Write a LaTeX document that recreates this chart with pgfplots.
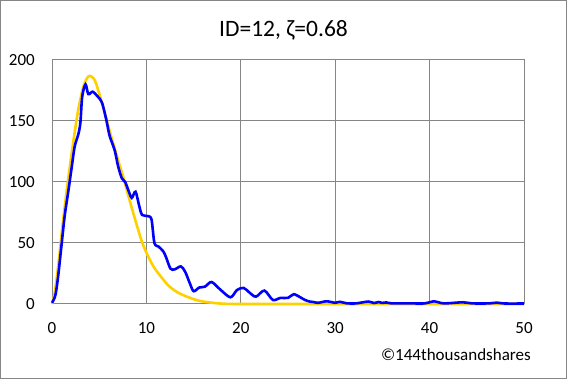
\documentclass[border=0pt]{standalone}
\usepackage{pgfplots}
\pgfplotsset{compat=1.18}
\usepackage{fontspec}
\setmainfont{Carlito}
\definecolor{serblue}{RGB}{0,0,255}
\definecolor{seryel}{RGB}{255,208,0}
\definecolor{gridgray}{RGB}{134,134,134}
\begin{document}
\begin{tikzpicture}
\useasboundingbox (-52pt,-75pt) rectangle (515pt,304pt);
\draw[gridgray, line width=1pt] (-51.5pt,-74.5pt) rectangle (514.5pt,303.5pt);
\begin{axis}[
  at={(0pt,0pt)}, anchor=south west,
  scale only axis, width=472pt, height=244pt,
  xmin=0, xmax=50, ymin=0, ymax=200,
  xtick={0,10,...,50}, ytick={0,50,...,200},
  grid=major, grid style={gridgray, line width=1pt},
  axis line style={gridgray, line width=1pt},
  major tick length=0pt,
  /pgf/number format/assume math mode=true,
  tick label style={font=\fontsize{17}{17}\selectfont, inner sep=0pt},
  yticklabel style={xshift=-17pt},
  xticklabel style={yshift=-18pt},
  clip=false,
]
\addplot[seryel, line width=2.6pt, smooth] coordinates {
(0,0) (0.28,9) (0.64,30) (1.17,68) (1.69,101) (2.22,131) (2.75,158) (3.28,177)
(3.7,185) (4.0,187) (4.4,185) (4.7,180) (5.4,162) (6.1,142) (7.0,118) (7.55,104)
(8.26,84) (8.97,65) (9.67,48) (10.73,31) (12.0,18) (12.5,14) (13.3,9.5) (14.3,6)
(15.2,3.5) (16,2) (17.8,0.4) (20,0) (30,0) (40,0) (50,0)
};
\addplot[serblue, line width=2.6pt, smooth] coordinates {
(0,1) (0.35,7) (0.64,22) (0.99,47) (1.34,72) (1.7,91) (2.05,110) (2.4,129)
(2.75,138) (3.0,148) (3.2,170) (3.55,180) (3.85,172) (4.3,174) (4.85,170)
(5.3,165) (5.75,151) (6.1,138) (6.64,126) (7.0,113) (7.4,103) (7.75,100)
(8.1,93) (8.45,87) (8.85,92) (9.25,80) (9.55,73) (10.2,72) (10.55,69)
(10.85,50) (11.3,47) (11.8,43) (12.1,38) (12.55,29) (13.0,28.4) (13.65,30.8)
(14.1,26.5) (14.6,17) (15.0,10.5) (15.6,13.5) (16.2,14.2) (16.9,18) (17.8,12)
(18.9,5.5) (19.6,11.5) (20.3,13.2) (20.9,9.5) (21.6,6) (22.5,11) (23.4,3.3)
(24.2,5) (25.0,5) (25.6,8) (26.3,5.5) (26.8,3.3) (27.3,2) (27.7,1.6) (28.2,1)
(29.1,2.2) (30.0,1) (30.5,1.8) (31.2,0.6) (32.2,0.5) (33.5,2) (34.1,0.8)
(34.6,1.6) (35.0,0.9) (35.4,1.3) (36.0,0.5) (38.0,0.5) (39.5,0.5) (40.5,2.2)
(41.5,0.5) (43.5,1.4) (44.5,0.5) (46.3,0.5) (47.1,1.1) (48.0,0.4) (50,0.4)
};
\end{axis}
\node[anchor=base, font=\fontsize{23.5}{24}\selectfont, inner sep=0pt] at (231.5pt,267pt) {ID=12, ζ=0.68};
\node[anchor=base east, font=\fontsize{17}{17}\selectfont, inner sep=0pt] at (479pt,-57pt) {©144thousandshares};
\end{tikzpicture}
\end{document}
